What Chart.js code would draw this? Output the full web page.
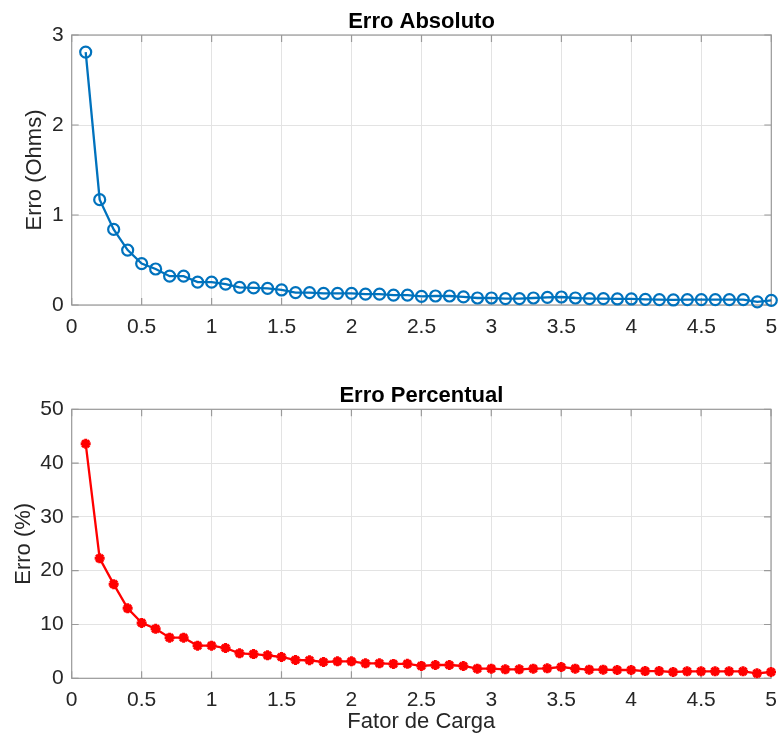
<!DOCTYPE html>
<html>
<head>
<meta charset="utf-8">
<script src="https://cdn.jsdelivr.net/npm/chart.js@4"></script>
<style>
  body { margin: 0; background: #fff; }
  .plot { position: absolute; left: 0; width: 779px; }
  #topPlot { top: 0; height: 345px; }
  #bottomPlot { top: 370px; height: 372px; }
</style>
</head>
<body>
<div class="plot" id="topPlot"><canvas id="absChart"></canvas></div>
<div class="plot" id="bottomPlot"><canvas id="pctChart"></canvas></div>
<script>
// load factor steps
const loadFactor = [
    0.1, 0.2, 0.3, 0.4, 0.5, 0.6, 0.7, 0.8, 0.9, 1.0,
    1.1, 1.2, 1.3, 1.4, 1.5, 1.6, 1.7, 1.8, 1.9, 2.0,
    2.1, 2.2, 2.3, 2.4, 2.5, 2.6, 2.7, 2.8, 2.9, 3.0,
    3.1, 3.2, 3.3, 3.4, 3.5, 3.6, 3.7, 3.8, 3.9, 4.0,
    4.1, 4.2, 4.3, 4.4, 4.5, 4.6, 4.7, 4.8, 4.9, 5.0
];

// absolute error (Ohms)
const absError = [
    2.81, 1.17, 0.84, 0.61, 0.46, 0.40, 0.32, 0.32, 0.255, 0.255,
    0.233, 0.196, 0.19, 0.185, 0.167, 0.137, 0.137, 0.13, 0.13, 0.13,
    0.12, 0.12, 0.11, 0.11, 0.095, 0.10, 0.10, 0.09, 0.078, 0.078,
    0.07, 0.07, 0.078, 0.085, 0.089, 0.078, 0.07, 0.07, 0.067, 0.067,
    0.063, 0.06, 0.056, 0.06, 0.06, 0.06, 0.06, 0.06, 0.035, 0.052
];

// percent error
const pctError = [
    43.6, 22.3, 17.5, 13.0, 10.3, 9.2, 7.55, 7.55, 6.06, 6.06,
    5.63, 4.64, 4.5, 4.27, 3.96, 3.4, 3.35, 3.03, 3.15, 3.15,
    2.79, 2.79, 2.67, 2.69, 2.3, 2.47, 2.47, 2.29, 1.79, 1.79,
    1.67, 1.67, 1.79, 1.85, 2.1, 1.79, 1.6, 1.6, 1.54, 1.54,
    1.35, 1.35, 1.17, 1.3, 1.3, 1.3, 1.3, 1.3, 0.93, 1.17
];

const xTicks = [0, 0.5, 1, 1.5, 2, 2.5, 3, 3.5, 4, 4.5, 5];
const absTicks = [0, 1, 2, 3];
const pctTicks = [0, 10, 20, 30, 40, 50];

const FONT = "'Liberation Sans', Arial, Helvetica, sans-serif";
const AXIS_GREY = '#9a9a9a';
const TEXT_GREY = '#262626';

// box around the plot area with inward tick marks on all four sides
const boxPlugin = {
    id: 'boxTicks',
    beforeDatasetsDraw(chart) {
        const { ctx, chartArea: a, scales: { x, y } } = chart;
        const len = 7;
        ctx.save();
        ctx.strokeStyle = AXIS_GREY;
        ctx.lineWidth = 1.2;
        ctx.strokeRect(a.left, a.top, a.right - a.left, a.bottom - a.top);
        ctx.beginPath();
        x.ticks.forEach(t => {
            const px = x.getPixelForValue(t.value);
            ctx.moveTo(px, a.bottom); ctx.lineTo(px, a.bottom - len);
            ctx.moveTo(px, a.top); ctx.lineTo(px, a.top + len);
        });
        y.ticks.forEach(t => {
            const py = y.getPixelForValue(t.value);
            ctx.moveTo(a.left, py); ctx.lineTo(a.left + len, py);
            ctx.moveTo(a.right, py); ctx.lineTo(a.right - len, py);
        });
        ctx.stroke();
        ctx.restore();
    }
};

function makeChart(canvasId, cfg) {
    const ctx = document.getElementById(canvasId).getContext('2d');
    return new Chart(ctx, {
        type: 'line',
        data: {
            datasets: [{
                data: loadFactor.map((v, i) => ({ x: v, y: cfg.values[i] })),
                borderColor: cfg.color,
                borderWidth: 2.3,
                pointStyle: cfg.marker,
                pointRadius: cfg.markerSize,
                pointBorderWidth: cfg.markerWidth,
                pointBorderColor: cfg.color,
                pointBackgroundColor: cfg.markerFill,
                tension: 0,
                clip: false
            }]
        },
        options: {
            responsive: true,
            maintainAspectRatio: false,
            animation: false,
            layout: { padding: { left: 0, right: 7.3, top: 0, bottom: 0 } },
            plugins: {
                legend: { display: false },
                tooltip: { enabled: false },
                title: {
                    display: true,
                    text: cfg.title,
                    fullSize: false,
                    color: '#000',
                    font: { family: FONT, size: 22, weight: 'bold', lineHeight: 1.2 },
                    padding: cfg.titlePadding
                }
            },
            scales: {
                x: {
                    type: 'linear',
                    min: 0,
                    max: 5,
                    afterBuildTicks: s => { s.ticks = xTicks.map(v => ({ value: v })); },
                    afterFit: s => {
                        s.height = cfg.xHeight;
                        s.paddingLeft = 0;
                        s.paddingRight = 0;
                    },
                    grid: { color: '#e3e3e3', drawTicks: false },
                    border: { display: false },
                    ticks: {
                        padding: 9.5,
                        color: TEXT_GREY,
                        font: { family: FONT, size: 21 },
                        maxRotation: 0,
                        autoSkip: false,
                        callback: v => String(v)
                    },
                    title: {
                        display: !!cfg.xTitle,
                        text: cfg.xTitle || '',
                        color: TEXT_GREY,
                        font: { family: FONT, size: 22, lineHeight: 1.2 },
                        padding: { top: 6.8, bottom: 6.8 }
                    }
                },
                y: {
                    type: 'linear',
                    min: cfg.yTicks[0],
                    max: cfg.yTicks[cfg.yTicks.length - 1],
                    afterBuildTicks: s => { s.ticks = cfg.yTicks.map(v => ({ value: v })); },
                    afterFit: s => {
                        s.width = 71.7;
                        s.paddingTop = 0;
                        s.paddingBottom = 0;
                    },
                    grid: { color: '#e3e3e3', drawTicks: false },
                    border: { display: false },
                    ticks: {
                        padding: 8,
                        color: TEXT_GREY,
                        font: { family: FONT, size: 21 },
                        callback: v => String(v)
                    },
                    title: {
                        display: true,
                        text: cfg.yTitle,
                        color: TEXT_GREY,
                        font: { family: FONT, size: 22, lineHeight: 1.2 },
                        padding: { top: cfg.yTitleOffset, bottom: cfg.yTitleOffset }
                    }
                }
            }
        },
        plugins: [boxPlugin]
    });
}

makeChart('absChart', {
    title: 'Erro Absoluto',
    titlePadding: { top: 8.6, bottom: 0 },
    values: absError,
    color: '#0072BD',
    marker: 'circle',
    markerSize: 5.5,
    markerWidth: 2.2,
    markerFill: 'rgba(0,0,0,0)',
    yTicks: absTicks,
    yTitle: 'Erro (Ohms)',
    yTitleOffset: 22,
    xHeight: 40
});

makeChart('pctChart', {
    title: 'Erro Percentual',
    titlePadding: { top: 12.9, bottom: 0 },
    values: pctError,
    color: '#FF0000',
    marker: 'star',
    markerSize: 5,
    markerWidth: 3,
    markerFill: '#FF0000',
    yTicks: pctTicks,
    yTitle: 'Erro (%)',
    yTitleOffset: 11,
    xTitle: 'Fator de Carga',
    xHeight: 63.7
});
</script>
</body>
</html>
